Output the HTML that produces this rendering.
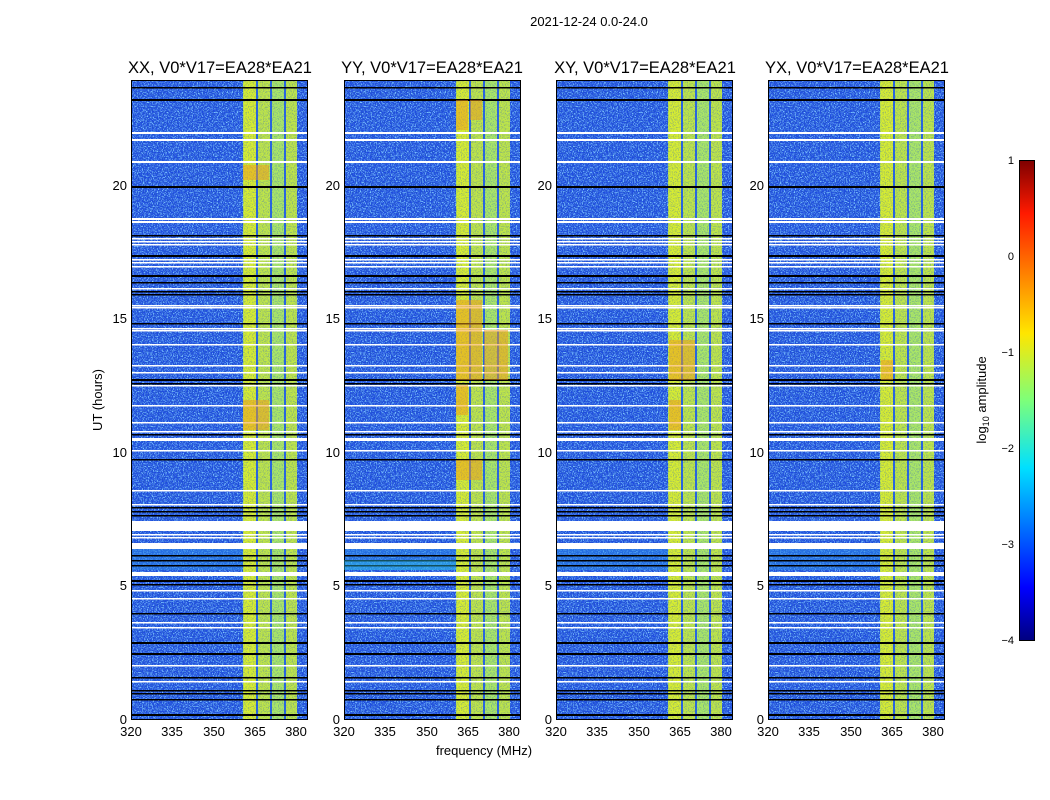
<!DOCTYPE html>
<html><head><meta charset="utf-8"><style>
html,body{margin:0;padding:0;background:#fff}
svg{display:block}
text{font-family:"Liberation Sans",sans-serif;fill:#000}
</style></head><body>
<svg width="1050" height="800" viewBox="0 0 1050 800" xmlns="http://www.w3.org/2000/svg">
<defs>
<filter id="nz" x="0" y="0" width="100%" height="100%">
<feTurbulence type="fractalNoise" baseFrequency="0.8" numOctaves="2" seed="3"/>
<feColorMatrix type="matrix" values="0 0 0 0 0.2  0 0 0 0 0.55  0 0 0 0 1  5 0 0 0 -2.3"/>
</filter>
<filter id="nz2" x="0" y="0" width="100%" height="100%">
<feTurbulence type="fractalNoise" baseFrequency="0.8" numOctaves="2" seed="9"/>
<feColorMatrix type="matrix" values="0 0 0 0 0.02  0 0 0 0 0.1  0 0 0 0 0.6  5 0 0 0 -2.4"/>
</filter>
<linearGradient id="jet" x1="0" y1="1" x2="0" y2="0">
<stop offset="0" stop-color="#00007f"/><stop offset="0.11" stop-color="#0000ff"/>
<stop offset="0.36" stop-color="#00e0ff"/><stop offset="0.5" stop-color="#7dff7a"/>
<stop offset="0.64" stop-color="#ffe600"/><stop offset="0.89" stop-color="#ff1a00"/>
<stop offset="1" stop-color="#7f0000"/>
</linearGradient>
<g id="panel">
<rect x="0" y="80" width="177" height="640" fill="#1d4ae0"/>
<rect x="0" y="80" width="177" height="640" filter="url(#nz)"/>
<rect x="0" y="80" width="177" height="640" filter="url(#nz2)"/>
<rect x="0" y="548" width="112" height="22" fill="#2a8ae8" opacity="0.5"/>
<rect x="112" y="80" width="54" height="640" fill="#bfe648"/>
<rect x="113" y="80" width="12" height="640" fill="#d8ee30"/>
<rect x="125" y="80" width="2" height="640" fill="#2a66e0"/>
<rect x="139" y="80" width="2" height="640" fill="#2a66e0"/>
<rect x="153" y="80" width="2" height="640" fill="#2a66e0"/>
<rect x="141" y="80" width="12" height="640" fill="#9ee87a" opacity="0.6"/>
<rect x="112" y="80" width="54" height="640" filter="url(#nz2)" opacity="0.35"/>
<g fill="#fff">
<rect x="0" y="132" width="177" height="2"/><rect x="0" y="139" width="177" height="2"/><rect x="0" y="161" width="177" height="2"/>
<rect x="0" y="218" width="177" height="2"/><rect x="0" y="221" width="177" height="2"/>
<rect x="0" y="238" width="177" height="1.5"/><rect x="0" y="241" width="177" height="1.5"/><rect x="0" y="244" width="177" height="1.5"/>
<rect x="0" y="259" width="177" height="1.5"/><rect x="0" y="262" width="177" height="1.5"/><rect x="0" y="266" width="177" height="1.5"/>
<rect x="0" y="288" width="177" height="1.5"/><rect x="0" y="305" width="177" height="1.5"/><rect x="0" y="307" width="177" height="1.5"/>
<rect x="0" y="328" width="177" height="1.5"/><rect x="0" y="330" width="177" height="1.5"/><rect x="0" y="344" width="177" height="1.5"/>
<rect x="0" y="365" width="177" height="1.5"/><rect x="0" y="372" width="177" height="1.5"/><rect x="0" y="385" width="177" height="1.5"/>
<rect x="0" y="405" width="177" height="1.5"/><rect x="0" y="422" width="177" height="1.5"/><rect x="0" y="431" width="177" height="1.5"/>
<rect x="0" y="438" width="177" height="3"/><rect x="0" y="450" width="177" height="1.5"/><rect x="0" y="490" width="177" height="1.5"/>
<rect x="0" y="504" width="177" height="1.5"/><rect x="0" y="521" width="177" height="10"/><rect x="0" y="534" width="177" height="1.5"/>
<rect x="0" y="537" width="177" height="1.5"/><rect x="0" y="543" width="177" height="6"/><rect x="0" y="572" width="177" height="4"/>
<rect x="0" y="590" width="177" height="1.5"/><rect x="0" y="598" width="177" height="1.5"/><rect x="0" y="622" width="177" height="1.5"/>
<rect x="0" y="627" width="177" height="1.5"/><rect x="0" y="665" width="177" height="1.5"/><rect x="0" y="681" width="177" height="1.5"/>
</g>
<g fill="#000">
<rect x="0" y="87" width="177" height="1.5"/><rect x="0" y="99" width="177" height="2"/><rect x="0" y="186" width="177" height="2"/>
<rect x="0" y="235" width="177" height="1.5"/><rect x="0" y="255" width="177" height="2"/><rect x="0" y="275" width="177" height="2"/>
<rect x="0" y="282" width="177" height="1.5"/><rect x="0" y="291" width="177" height="1.5"/><rect x="0" y="294" width="177" height="1.5"/>
<rect x="0" y="323" width="177" height="1.5"/><rect x="0" y="379" width="177" height="2"/><rect x="0" y="383" width="177" height="1.5"/>
<rect x="0" y="434" width="177" height="1.5"/><rect x="0" y="459" width="177" height="1.5"/><rect x="0" y="507" width="177" height="1.5"/>
<rect x="0" y="511" width="177" height="1.5"/><rect x="0" y="515" width="177" height="1.5"/><rect x="0" y="555" width="177" height="1.5"/>
<rect x="0" y="560" width="177" height="1.5"/><rect x="0" y="565" width="177" height="1.5"/><rect x="0" y="580" width="177" height="2"/>
<rect x="0" y="584" width="177" height="1.5"/><rect x="0" y="613" width="177" height="1.5"/><rect x="0" y="642" width="177" height="2"/>
<rect x="0" y="653" width="177" height="2"/><rect x="0" y="677" width="177" height="1.5"/><rect x="0" y="690" width="177" height="1.5"/>
<rect x="0" y="693" width="177" height="1.5"/><rect x="0" y="699" width="177" height="1.5"/><rect x="0" y="714" width="177" height="2"/>
</g>
<rect x="0.5" y="80.5" width="176" height="639" fill="none" stroke="#000" stroke-width="1"/>
<g font-size="13" text-anchor="middle">
<text x="0" y="736">320</text><text x="41" y="736">335</text><text x="83" y="736">350</text><text x="124" y="736">365</text><text x="165" y="736">380</text>
</g>
<g font-size="13" text-anchor="end">
<text x="-4" y="724">0</text><text x="-4" y="590">5</text><text x="-4" y="457">10</text><text x="-4" y="323">15</text><text x="-4" y="190">20</text>
</g>
</g>
</defs>

<text x="589" y="26" font-size="13" text-anchor="middle">2021-12-24 0.0-24.0</text>

<use href="#panel" x="131"/>
<use href="#panel" x="344"/>
<use href="#panel" x="556"/>
<use href="#panel" x="768"/>

<g fill="#f39a18" opacity="0.5">
<rect x="456" y="100" width="12" height="30"/><rect x="470" y="100" width="12" height="20"/>
<rect x="456" y="300" width="26" height="80"/><rect x="484" y="330" width="24" height="50"/>
<rect x="456" y="385" width="12" height="30"/><rect x="456" y="460" width="26" height="20"/>
<rect x="243" y="165" width="26" height="15"/><rect x="243" y="400" width="26" height="30"/>
<rect x="669" y="340" width="26" height="40"/><rect x="669" y="400" width="12" height="30"/>
<rect x="881" y="360" width="12" height="20"/>
</g>
<rect x="344" y="560" width="112" height="10" fill="#30c8e8" opacity="0.4"/>

<text x="220" y="73" font-size="16.5" text-anchor="middle">XX, V0*V17=EA28*EA21</text>
<text x="432" y="73" font-size="16.5" text-anchor="middle">YY, V0*V17=EA28*EA21</text>
<text x="645" y="73" font-size="16.5" text-anchor="middle">XY, V0*V17=EA28*EA21</text>
<text x="857" y="73" font-size="16.5" text-anchor="middle">YX, V0*V17=EA28*EA21</text>

<text transform="translate(102,400) rotate(-90)" font-size="13" text-anchor="middle">UT (hours)</text>
<text x="484" y="755" font-size="13" text-anchor="middle">frequency (MHz)</text>

<rect x="1019.5" y="160.5" width="15" height="480" fill="url(#jet)" stroke="#000" stroke-width="1"/>
<g font-size="11" text-anchor="end">
<text x="1014" y="164">1</text><text x="1014" y="260">0</text><text x="1014" y="356">−1</text>
<text x="1014" y="452">−2</text><text x="1014" y="548">−3</text><text x="1014" y="644">−4</text>
</g>
<text transform="translate(986,400) rotate(-90)" font-size="13" text-anchor="middle">log<tspan font-size="9" dy="3">10</tspan><tspan dy="-3"> amplitude</tspan></text>
</svg>
</body></html>
